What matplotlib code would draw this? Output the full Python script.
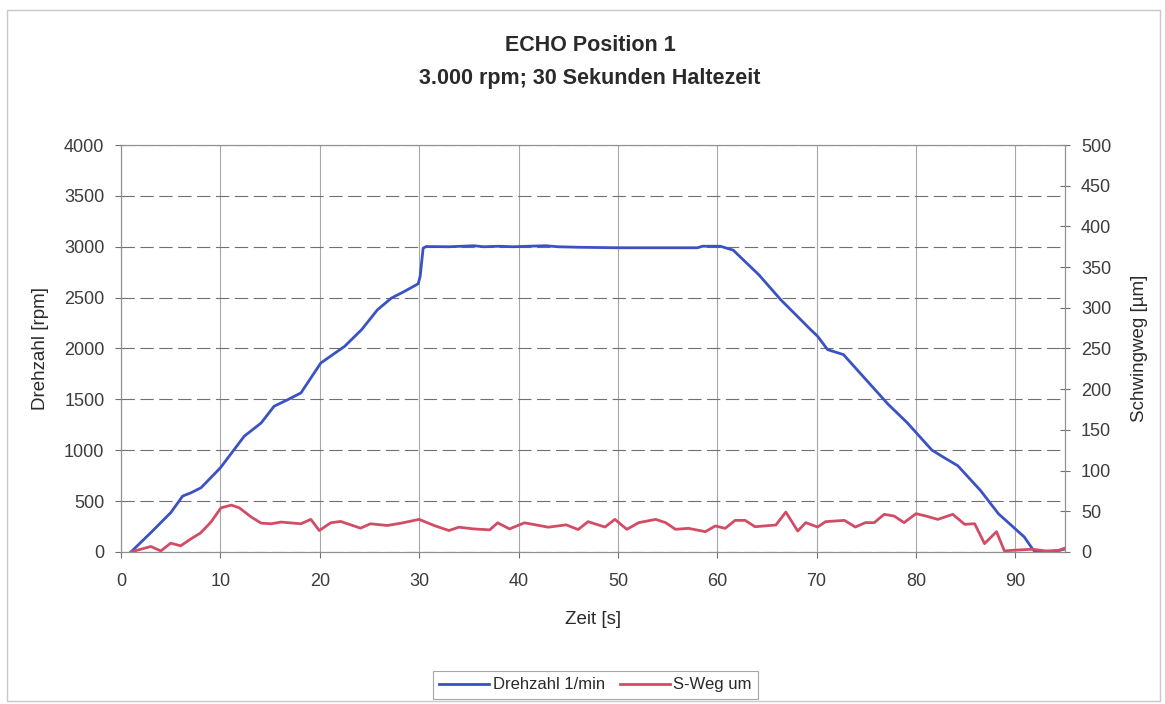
import numpy as np
import matplotlib.pyplot as plt
from matplotlib.patches import Rectangle

plt.rcParams['font.family'] = ['Liberation Sans', 'DejaVu Sans']

# Drehzahl (rpm) over time (s)
t_rpm = [1.0, 3.0, 5.0, 6.2, 7.05, 8.05, 10.0, 12.4, 14.1, 15.4, 16.8, 18.1,
         20.1, 22.5, 24.2, 25.8, 27.2, 28.5, 29.9, 30.1, 30.4, 30.7,
         33.0, 35.5, 36.5, 38.0, 39.5, 41.0, 42.7, 44.0, 46.0, 50.0, 55.0,
         58.0, 58.5, 60.3, 61.6, 64.2, 66.4, 67.9, 69.4, 70.1, 71.1, 72.7,
         74.2, 77.2, 79.1, 81.6, 82.8, 84.2, 86.5, 88.3, 90.9, 91.7, 92.0,
         93.0, 94.0, 95.0]
rpm = [0, 190, 386, 549, 582, 631, 827, 1138, 1268, 1432, 1498, 1563,
       1857, 2021, 2184, 2380, 2495, 2560, 2636, 2708, 2986, 3002,
       3000, 3010, 3000, 3005, 3000, 3005, 3010, 3000, 2995, 2990, 2990,
       2990, 3005, 3005, 2967, 2723, 2478, 2332, 2185, 2120, 1989, 1940,
       1777, 1451, 1272, 1001, 929, 848, 603, 375, 147, 33, 0,
       0, 5, 30]

# S-Weg (um) over time (s)
t_sw = [1.0, 3.0, 4.0, 5.0, 6.0, 7.0, 8.0, 9.05, 10.06, 11.1, 11.9, 13.1,
        14.1, 15.1, 16.1, 18.1, 19.1, 19.95, 21.1, 22.1, 24.1, 25.1, 26.8,
        28.2, 30.0, 31.5, 33.0, 34.0, 35.5, 37.1, 37.9, 39.1, 40.6, 43.0,
        44.8, 46.0, 47.0, 48.7, 49.7, 50.9, 52.1, 53.8, 54.8, 55.8, 57.1,
        58.8, 59.8, 60.8, 61.8, 62.8, 63.8, 65.9, 66.9, 68.1, 68.9, 70.1,
        70.9, 72.8, 73.9, 74.9, 75.8, 76.8, 77.8, 78.8, 80.0, 81.0, 82.2,
        83.7, 84.9, 85.9, 86.9, 88.1, 88.9, 89.7, 91.7, 93.1, 94.4, 95.1]
sweg = [0, 6.7, 1.2, 10.8, 7.5, 15.8, 23.3, 36.7, 54.2, 57.5, 54.2, 42.9,
        35.4, 34.6, 36.7, 34.6, 40, 26.3, 35.8, 37.5, 29.2, 34.6, 32.5,
        35.4, 40, 32.5, 26.3, 30.4, 28.3, 27.1, 35.8, 28.3, 35.8, 30.4,
        33.3, 27.5, 37.2, 30.6, 40, 27.8, 36, 40, 36, 27.8, 29,
        24.9, 31.9, 29, 38.8, 38.8, 31, 33.1, 49, 25.7, 36, 30.6,
        37.2, 38.8, 30.6, 36, 36, 46.2, 44.1, 36, 47, 44.1, 40,
        46.2, 33.9, 34.7, 10.2, 24.9, 1.2, 2, 3.3, 1.2, 2, 5.3]

fig = plt.figure(figsize=(11.65, 7.04), dpi=100)
fig.patches.append(Rectangle((0.006, 0.004), 0.99, 0.982, transform=fig.transFigure,
                             fill=False, edgecolor='#c8c8c8', linewidth=1.0))

ax = fig.add_axes([0.1039, 0.216, 0.8103, 0.578])
ax2 = ax.twinx()

ax.plot(t_rpm, rpm, color='#3a52c2', linewidth=2.0, label='Drehzahl 1/min')
ax2.plot(t_sw, sweg, color='#d24c66', linewidth=2.0, label='S-Weg um')

ax.set_xlim(0, 95)
ax.set_ylim(0, 4000)
ax2.set_ylim(0, 500)
ax.set_xticks(np.arange(0, 91, 10))
ax.set_yticks(np.arange(0, 4001, 500))
ax2.set_yticks(np.arange(0, 501, 50))

ax.grid(axis='y', color='#707070', linestyle=(0, (12, 5)), linewidth=0.8)
ax.grid(axis='x', color='#a8a8a8', linestyle='-', linewidth=0.8)
ax.set_axisbelow(True)

for a in (ax, ax2):
    for s in a.spines.values():
        s.set_color('#909090')
        s.set_linewidth(0.8)
    a.tick_params(colors='#707070', labelcolor='#3c3c3c', labelsize=13, length=4)
ax.tick_params(axis='y', pad=8)
ax.tick_params(axis='x', pad=11)
ax2.tick_params(direction='inout', length=7, pad=8)

ax.set_xlabel('Zeit [s]', fontsize=13.5, color='#2a2a2a')
ax.set_ylabel('Drehzahl [rpm]', fontsize=13.5, color='#2a2a2a')
ax2.set_ylabel('Schwingweg [µm]', fontsize=13.5, color='#2a2a2a')
ax.xaxis.set_label_coords(0.5, -0.167)
ax.yaxis.set_label_coords(-0.0858, 0.5)
ax2.yaxis.set_label_coords(1.0794, 0.5)
ax.xaxis.label.set_va('center')
ax.yaxis.label.set_va('center')
ax2.yaxis.label.set_va('center')

fig.text(0.5064, 0.935, 'ECHO Position 1', ha='center', va='center', fontsize=15.5,
         fontweight='bold', color='#2a2a2a')
fig.text(0.5064, 0.888, '3.000 rpm; 30 Sekunden Haltezeit', ha='center', va='center',
         fontsize=15.5, fontweight='bold', color='#2a2a2a')

h1, l1 = ax.get_legend_handles_labels()
h2, l2 = ax2.get_legend_handles_labels()
leg = fig.legend(h1 + h2, l1 + l2, loc='center', bbox_to_anchor=(0.511, 0.027), ncol=2,
                 fontsize=12, frameon=True, fancybox=False, handlelength=3.0,
                 handletextpad=0.2, columnspacing=0.9, borderpad=0.4)
leg.get_frame().set_edgecolor('#909090')
leg.get_frame().set_linewidth(0.8)
for txt in leg.get_texts():
    txt.set_color('#2a2a2a')

fig.savefig('out.png', dpi=100)
